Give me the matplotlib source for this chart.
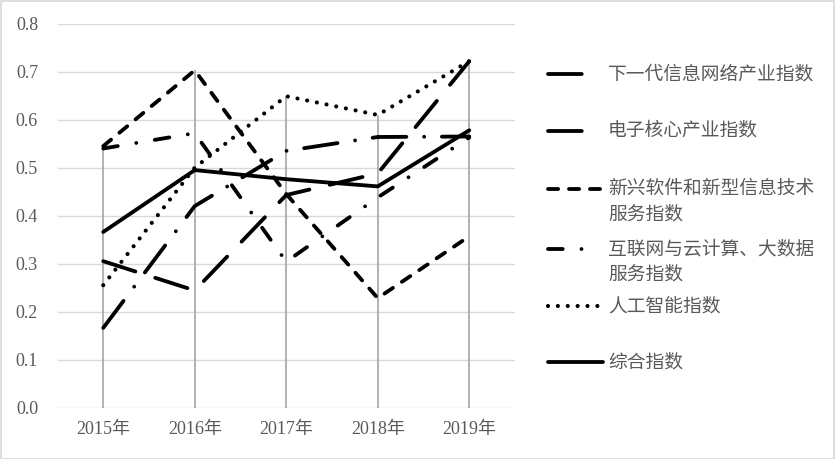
import numpy as np
import matplotlib
matplotlib.use("Agg")
import matplotlib.pyplot as plt
from matplotlib.lines import Line2D

years = ["2015年", "2016年", "2017年", "2018年", "2019年"]
next_gen_net = [0.305, 0.244, 0.443, 0.488, 0.722]
core_elec = [0.166, 0.420, 0.535, 0.564, 0.565]
new_software = [0.545, 0.703, 0.445, 0.228, 0.357]
cloud_bigdata = [0.540, 0.572, 0.304, 0.438, 0.563]
ai_index = [0.255, 0.500, 0.649, 0.610, 0.722]
composite = [0.366, 0.495, 0.476, 0.461, 0.578]

labels = ["下一代信息网络产业指数", "电子核心产业指数", "新兴软件和新型信息技术\n服务指数",
          "互联网与云计算、大数据\n服务指数", "人工智能指数", "综合指数"]
series = [next_gen_net, core_elec, new_software, cloud_bigdata, ai_index, composite]

# dash patterns in points (round caps), no scaling by linewidth
plt.rcParams["lines.scale_dashes"] = False
styles = [(0, (24.3, 15.0)),
          (0, (24.3, 12.8, 0.01, 12.8)),
          (0, (7.3, 7.8)),
          (0, (10.6, 13.5, 0.01, 13.5)),
          (0, (0.01, 7.1)),
          "-"]
widths = [2.75, 2.75, 2.75, 2.75, 3.0, 2.75]

W, H = 835, 459
fig = plt.figure(figsize=(W / 100, H / 100), dpi=100)
ax = fig.add_axes([57.5 / W, 1 - 407.5 / H, (515 - 57.5) / W, (407.5 - 23.8) / H])

x = np.arange(len(years))
grid_c = "#d9d9d9"
for v in np.arange(0, 0.81, 0.1):
    ax.axhline(v, color=grid_c, lw=1.0, zorder=1)

# drop lines from the highest value down to the axis
tops = np.max(np.array(series), axis=0)
ax.vlines(x, 0, tops, color="#a6a6a6", lw=1.2, zorder=2)

for vals, ls, lw in zip(series, styles, widths):
    ax.plot(x, vals, color="black", lw=lw, linestyle=ls,
            dash_capstyle="round", solid_capstyle="round", zorder=3)

ax.set_xlim(-0.5, len(years) - 0.5)
ax.set_ylim(0, 0.8)
ax.set_yticks(np.arange(0, 0.81, 0.1))
ax.set_yticklabels([f"{v:.1f}" for v in np.arange(0, 0.81, 0.1)])
ax.set_xticks(x)
ax.set_xticklabels(years)
for s in ax.spines.values():
    s.set_visible(False)
ax.tick_params(axis="both", length=0, colors="#595959")
ax.tick_params(axis="y", pad=14)
ax.tick_params(axis="x", pad=10)
for t in ax.get_xticklabels() + ax.get_yticklabels():
    t.set_fontfamily(["Liberation Serif", "Noto Sans CJK SC"])
    t.set_fontsize(13)
    t.set_color("#595959")

# legend, drawn by hand so the wrapped labels line up like the original
leg_rows = [74, 130.5, 188.5, 249, 306, 362]
leg_ends = [598, 598, 603, 598, 603, 603]
for lab, ls, lw, yy, xe in zip(labels, styles, widths, leg_rows, leg_ends):
    fig.add_artist(Line2D([548 / W, xe / W], [1 - yy / H, 1 - yy / H], transform=fig.transFigure,
                          color="black", lw=lw, linestyle=ls,
                          dash_capstyle="round", solid_capstyle="round"))
    for k, line in enumerate(lab.split("\n")):
        fig.text(608 / W, 1 - (yy - 0.5 + k * 25.5) / H, line, ha="left", va="center",
                 family=["Noto Sans CJK SC", "DejaVu Sans"], fontsize=13.5, color="#595959")

# thin frame round the whole picture
fig.add_artist(plt.Rectangle((0.5 / W, 0.5 / H), 1 - 1.5 / W, 1 - 1.5 / H, transform=fig.transFigure,
                             fill=False, edgecolor=grid_c, lw=1.2))

fig.savefig("out.png", dpi=100)
